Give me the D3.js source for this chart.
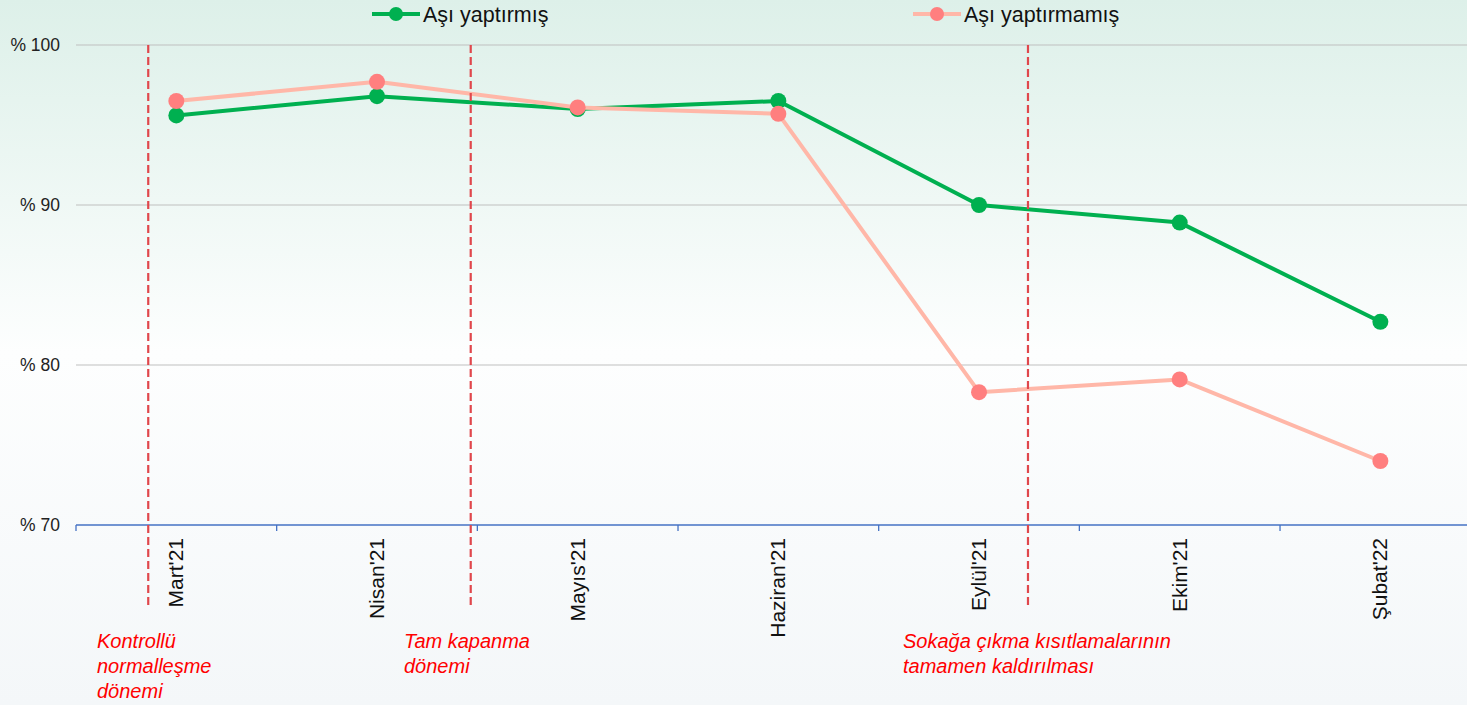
<!DOCTYPE html>
<html>
<head>
<meta charset="utf-8">
<script src="https://cdn.jsdelivr.net/npm/d3@7"></script>
<style>
  html, body { margin: 0; padding: 0; overflow: hidden; }
  svg { display: block; }
</style>
</head>
<body>
<script>
const categories = ["Mart'21", "Nisan'21", "Mayıs'21", "Haziran'21", "Eylül'21", "Ekim'21", "Şubat'22"];
const vaccinated = [95.6, 96.8, 96.0, 96.5, 90.0, 88.9, 82.7];
const unvaccinated = [96.5, 97.7, 96.1, 95.7, 78.3, 79.1, 74.0];
const yTicks = [70, 80, 90, 100];
const seriesNames = ["Aşı yaptırmış", "Aşı yaptırmamış"];
// event markers: position in category units (0 = left edge of first band)
const eventPos = [0.36, 1.967, 4.744];
const eventLabels = [
  ["Kontrollü", "normalleşme", "dönemi"],
  ["Tam kapanma", "dönemi"],
  ["Sokağa çıkma kısıtlamalarının", "tamamen kaldırılması"]
];

const width = 1467, height = 705;
const font = "'Liberation Sans Narrow', 'Arial Narrow', 'Liberation Sans', sans-serif";

const svg = d3.select("body").append("svg")
    .attr("width", width)
    .attr("height", height)
    .style("font-family", font);

const defs = svg.append("defs");
const grad = defs.append("linearGradient")
    .attr("id", "bg")
    .attr("x1", 0).attr("y1", 0).attr("x2", 0).attr("y2", 1);
grad.append("stop").attr("offset", "0%").attr("stop-color", "#ddf0e9");
grad.append("stop").attr("offset", "50%").attr("stop-color", "#fdfefe");
grad.append("stop").attr("offset", "100%").attr("stop-color", "#f4f7f9");

svg.append("rect")
    .attr("width", width)
    .attr("height", height)
    .attr("fill", "url(#bg)");

const x = d3.scaleBand()
    .domain(categories)
    .range([76, 1480.7]);

const xPos = d3.scaleLinear()
    .domain([0, categories.length])
    .range(x.range());

const y = d3.scaleLinear()
    .domain([70, 100])
    .range([525, 45]);

// gridlines
svg.append("g")
  .selectAll("line")
  .data(yTicks.filter(d => d > 70))
  .join("line")
    .attr("x1", 76)
    .attr("x2", width)
    .attr("y1", d => y(d))
    .attr("y2", d => y(d))
    .attr("stroke", "#bfbfbf")
    .attr("stroke-width", 1.2);

// y labels
svg.append("g")
  .selectAll("text")
  .data(yTicks)
  .join("text")
    .attr("x", 60)
    .attr("y", d => y(d))
    .attr("dy", "0.35em")
    .attr("text-anchor", "end")
    .attr("font-size", 17.5)
    .attr("fill", "#222")
    .text(d => `% ${d}`);

// x axis
const xAxis = svg.append("g");
xAxis.append("line")
    .attr("x1", 76)
    .attr("x2", width)
    .attr("y1", y(70))
    .attr("y2", y(70))
    .attr("stroke", "#4472c4")
    .attr("stroke-width", 1.3);
xAxis.selectAll(".tick")
  .data(d3.range(categories.length + 1))
  .join("line")
    .attr("x1", d => xPos(d))
    .attr("x2", d => xPos(d))
    .attr("y1", y(70))
    .attr("y2", y(70) + 6)
    .attr("stroke", "#4472c4")
    .attr("stroke-width", 1.3);
xAxis.selectAll("text")
  .data(categories)
  .join("text")
    .attr("transform", d => `translate(${x(d) + x.bandwidth() / 2 + 7},${y(70) + 13}) rotate(-90)`)
    .attr("text-anchor", "end")
    .attr("font-size", 21)
    .attr("fill", "#111")
    .text(d => d);

const line = d3.line()
    .x((d, i) => x(categories[i]) + x.bandwidth() / 2)
    .y(d => y(d));

const series = [
  {name: seriesNames[0], values: vaccinated, stroke: "#00b050", dot: "#00b050"},
  {name: seriesNames[1], values: unvaccinated, stroke: "#ffb7a8", dot: "#ff7f7f"}
];

series.forEach(s => {
  const g = svg.append("g");
  g.append("path")
      .attr("d", line(s.values))
      .attr("fill", "none")
      .attr("stroke", s.stroke)
      .attr("stroke-width", 4)
      .attr("stroke-linejoin", "round");
  g.selectAll("circle")
    .data(s.values)
    .join("circle")
      .attr("cx", (d, i) => x(categories[i]) + x.bandwidth() / 2)
      .attr("cy", d => y(d))
      .attr("r", 8)
      .attr("fill", s.dot);
});

// event lines
svg.append("g")
  .selectAll("line")
  .data(eventPos)
  .join("line")
    .attr("x1", d => xPos(d))
    .attr("x2", d => xPos(d))
    .attr("y1", 45)
    .attr("y2", 608)
    .attr("stroke", "#e0474c")
    .attr("stroke-width", 2.2)
    .attr("stroke-dasharray", "8,4");

// event labels
const labelX = [97, 404, 903];
eventLabels.forEach((lines, i) => {
  svg.append("text")
      .attr("x", labelX[i])
      .attr("y", 648)
      .attr("font-size", 20)
      .attr("font-style", "italic")
      .attr("fill", "#ff0000")
    .selectAll("tspan")
    .data(lines)
    .join("tspan")
      .attr("x", labelX[i])
      .attr("dy", (d, j) => j === 0 ? 0 : 25)
      .text(d => d);
});

// legend
const legendX = [372, 913];
series.forEach((s, i) => {
  const g = svg.append("g").attr("transform", `translate(${legendX[i]},14)`);
  g.append("line")
      .attr("x1", 0).attr("x2", 48)
      .attr("stroke", s.stroke)
      .attr("stroke-width", 4);
  g.append("circle")
      .attr("cx", 24)
      .attr("r", 7)
      .attr("fill", s.dot);
  g.append("text")
      .attr("x", 51)
      .attr("dy", "0.35em")
      .attr("font-size", 21.5)
      .attr("fill", "#111")
      .text(s.name);
});
</script>
</body>
</html>
